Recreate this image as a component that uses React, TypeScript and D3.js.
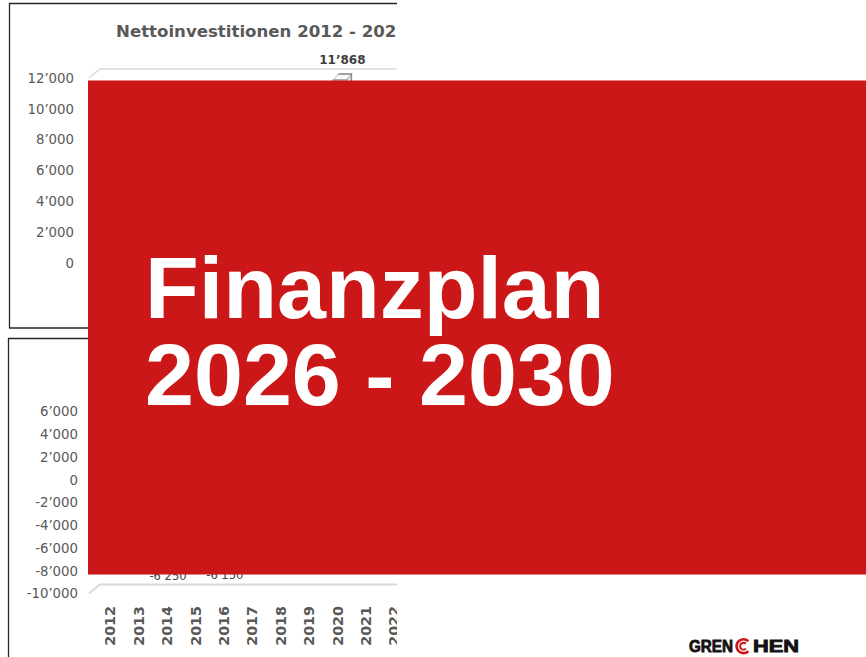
import React from 'react';
import * as d3 from 'd3';

// Categories shared by both chart panels
const years = ['2012', '2013', '2014', '2015', '2016', '2017', '2018', '2019', '2020', '2021', '2022', '2023', '2024', '2025'];

// Upper panel: Nettoinvestitionen
const investTitle = 'Nettoinvestitionen 2012 - 2025';
const investTicks = [0, 2000, 4000, 6000, 8000, 10000, 12000];
const investYears = ['2020'];
const investValues = [11868];

// Lower panel
const resultTicks = [-10000, -8000, -6000, -4000, -2000, 0, 2000, 4000, 6000];
const resultYears = ['2014', '2016'];
const resultValues = [-6250, -6150];

// Cover slide
const coverLines = ['Finanzplan', '2026 - 2030'];

const fmt = d3
  .formatLocale({ decimal: '.', thousands: '\u2019', grouping: [3], currency: ['', ''], minus: '-' })
  .format(',d');

const RED = '#cc1719';
const GREY = '#595959';
const DARK = '#404040';
const GRID = '#d9d9d9';
const FONT = '"DejaVu Sans", sans-serif';

export default function App() {
  // ---- upper panel scales ----
  const xTop = d3.scaleBand<string>().domain(years).range([98.5, 98.5 + years.length * 28.4]);
  const yTop = d3.scaleLinear().domain([0, 12000]).range([263, 78]);
  // ---- lower panel scales ----
  const xBot = d3.scaleBand<string>().domain(years).range([96, 96 + years.length * 28.4]);
  const yBot = d3.scaleLinear().domain([-10000, 6000]).range([593.5, 411.5]);

  const wallDepth = { dx: 11, dy: -9 };
  const barDepth = { dx: 5, dy: -6 };
  const plotLeft = 89;
  const line = d3.line<[number, number]>();

  const topGrid: [number, number][] = [
    [plotLeft, yTop(12000)],
    [plotLeft + wallDepth.dx, yTop(12000) + wallDepth.dy],
    [420, yTop(12000) + wallDepth.dy],
  ];
  const botFloor: [number, number][] = [
    [plotLeft, yBot(-10000)],
    [plotLeft + wallDepth.dx, yBot(-10000) + wallDepth.dy],
    [420, yBot(-10000) + wallDepth.dy],
  ];

  const barW = xTop.step() * 0.46;

  // logo C rings (open to the right)
  const ring = d3.arc<any>();
  const gapA = 0.8;
  const outerRing = ring({ innerRadius: 5.6, outerRadius: 8.3, startAngle: Math.PI / 2 + gapA, endAngle: Math.PI / 2 - gapA + 2 * Math.PI }) as string;
  const innerRing = ring({ innerRadius: 2.4, outerRadius: 4.4, startAngle: Math.PI / 2 + gapA, endAngle: Math.PI / 2 - gapA + 2 * Math.PI }) as string;

  return (
    <svg
      width={866}
      height={657}
      viewBox="0 0 866 657"
      style={{ position: 'fixed', left: 0, top: 0, background: '#fff' }}
      fontFamily={FONT}
    >
      <defs>
        <clipPath id="panelClip">
          <rect x={0} y={0} width={397} height={657} />
        </clipPath>
      </defs>
      <rect width={866} height={657} fill="#fff" />

      <g clipPath="url(#panelClip)">
        {/* upper panel */}
        <g>
          <path d="M9,3.5H420M9.5,3V328M9,328H420" fill="none" stroke="#262626" strokeWidth={1.3} />
          <text x={116} y={37} fontSize={16.6} fontWeight="bold" fill={GREY}>
            {investTitle}
          </text>
          <path d={line(topGrid) ?? ''} fill="none" stroke={GRID} strokeWidth={1.5} />
          {investTicks.map((t) => (
            <text key={t} x={74} y={yTop(t)} dy="0.36em" textAnchor="end" fontSize={13.3} fill={GREY}>
              {fmt(t)}
            </text>
          ))}
          {investYears.map((yr, i) => {
            const c = (xTop(yr) ?? 0) + xTop.step() / 2;
            const x0 = c - barW / 2;
            const x1 = c + barW / 2;
            const yv = yTop(investValues[i]);
            const y0 = yTop(0);
            const { dx, dy } = barDepth;
            return (
              <g key={yr}>
                <path
                  d={`M${x1},${yv}L${x1 + dx},${yv + dy}L${x1 + dx},${y0 + dy}L${x1},${y0}Z`}
                  fill="#f0f0f0"
                  stroke="#8c8c8c"
                  strokeWidth={1.2}
                />
                <path
                  d={`M${x0},${yv}L${x0 + dx},${yv + dy}L${x1 + dx},${yv + dy}L${x1},${yv}Z`}
                  fill="#fafafa"
                  stroke="#b0b0b0"
                  strokeWidth={0.8}
                />
                <path d={`M${x0 + dx},${yv + dy}L${x1 + dx},${yv + dy}V${y0 + dy}`} fill="none" stroke="#8c8c8c" strokeWidth={1.4} />
                <rect x={x0} y={yv} width={barW} height={y0 - yv} fill="#f7f7f7" stroke="#8c8c8c" strokeWidth={1.2} />
                <text x={c + dx / 2} y={yv + dy - 10} textAnchor="middle" fontSize={12} fontWeight="bold" fill={DARK}>
                  {fmt(investValues[i])}
                </text>
              </g>
            );
          })}
        </g>

        {/* lower panel */}
        <g>
          <path d="M8,338.5H420M8.5,338V657" fill="none" stroke="#262626" strokeWidth={1.3} />
          <path d={line(botFloor) ?? ''} fill="none" stroke={GRID} strokeWidth={2} />
          {resultTicks.map((t) => (
            <text key={t} x={78} y={yBot(t)} dy="0.36em" textAnchor="end" fontSize={13.3} fill={GREY}>
              {fmt(t)}
            </text>
          ))}
          {years.map((yr) => (
            <text
              key={yr}
              transform={`translate(${(xBot(yr) ?? 0) + xBot.step() / 2},606) rotate(-90)`}
              textAnchor="end"
              dy="0.36em"
              fontSize={14.3}
              fontWeight="bold"
              fill={GREY}
            >
              {yr}
            </text>
          ))}
          {resultYears.map((yr, i) => {
            const c = (xBot(yr) ?? 0) + xBot.step() / 2;
            const bw = xBot.step() * 0.46;
            const y0 = yBot(0);
            const yv = yBot(resultValues[i]);
            return (
              <g key={yr}>
                <rect x={c - bw / 2} y={y0} width={bw} height={yv - y0} fill="#f7f7f7" stroke="#8c8c8c" />
                <text x={c + 1} y={yv + 29} textAnchor="middle" fontSize={11.5} fill={DARK}>
                  {fmt(resultValues[i])}
                </text>
              </g>
            );
          })}
        </g>
      </g>

      {/* cover block */}
      <rect x={88} y={80.5} width={778} height={494} fill={RED} />
      <text
        x={145}
        y={318}
        fontFamily='"Liberation Sans", Arial, sans-serif'
        fontWeight="bold"
        fontSize={88}
        fill="#fff"
      >
        {coverLines.map((s, i) => (
          <tspan key={s} x={145} y={318 + i * 87}>
            {s}
          </tspan>
        ))}
      </text>

      {/* logo */}
      <g fontFamily='"Liberation Sans", Arial, sans-serif' fontWeight="bold" fontSize={16} fill="#111" stroke="#111" strokeWidth={0.8}>
        <text x={689} y={652} textLength={44} lengthAdjust="spacingAndGlyphs">GREN</text>
        <text x={753} y={652} textLength={46} lengthAdjust="spacingAndGlyphs">HEN</text>
      </g>
      <g transform="translate(743.5,646.2)" fill={RED}>
        <path d={outerRing} />
        <path d={innerRing} />
      </g>
    </svg>
  );
}
